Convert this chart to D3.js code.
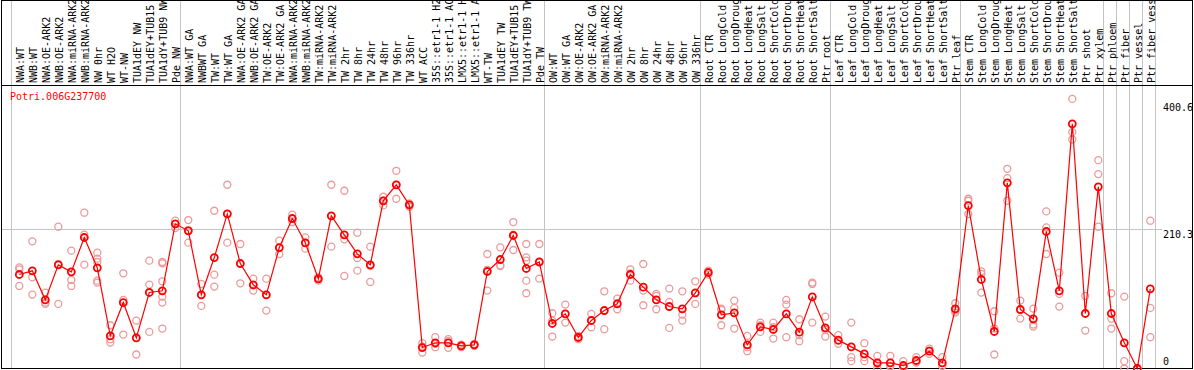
<!DOCTYPE html>
<html>
<head>
<meta charset="utf-8">
<script src="https://cdn.jsdelivr.net/npm/d3@7"></script>
<style>
  body { margin: 0; background: #fff; }
  svg { display: block; }
  text { font-family: 'DejaVu Sans Mono', monospace; font-size: 10px; }
</style>
</head>
<body>
<svg id="chart"></svg>
<script>
const gene = 'Potri.006G237700'

const samples = [
  'NWA:WT', 'NWB:WT', 'NWA:OE-ARK2', 'NWB:OE-ARK2', 'NWA:miRNA-ARK2', 'NWB:miRNA-ARK2', 'NW 0hr', 'WT H2O', 'WT-NW',
  'TUA1dEY NW', 'TUA1dEY+TUB15 NW', 'TUA1dY+TUB9 NW', 'Pde NW',
  'NWA:WT GA', 'NWBWT GA', 'TW:WT', 'TW:WT GA', 'NWA:OE-ARK2 GA', 'NWB:OE-ARK2 GA', 'TW:OE-ARK2', 'TW:OE-ARK2 GA',
  'NWA:miRNA-ARK2 GA', 'NWB:miRNA-ARK2 GA', 'TW:miRNA-ARK2', 'TW:miRNA-ARK2 GA', 'TW 2hr', 'TW 8hr', 'TW 24hr', 'TW 48hr',
  'TW 96hr', 'TW 336hr', 'WT ACC', '35S::etr1-1 H2O', '35S::etr1-1 ACC', 'LMX5::etr1-1 H2O', 'LMX5::etr1-1 ACC', 'WT-TW',
  'TUA1dEY TW', 'TUA1dEY+TUB15 TW', 'TUA1dY+TUB9 TW', 'Pde TW',
  'OW:WT', 'OW:WT GA', 'OW:OE-ARK2', 'OW:OE-ARK2 GA', 'OW:miRNA-ARK2', 'OW:miRNA-ARK2 GA', 'OW 2hr', 'OW 8hr', 'OW 24hr',
  'OW 48hr', 'OW 96hr', 'OW 336hr',
  'Root CTR', 'Root LongCold', 'Root LongDrought', 'Root LongHeat', 'Root LongSalt', 'Root ShortCold', 'Root ShortDrought',
  'Root ShortHeat', 'Root ShortSalt', 'Ptr root',
  'Leaf CTR', 'Leaf LongCold', 'Leaf LongDrought', 'Leaf LongHeat', 'Leaf LongSalt', 'Leaf ShortCold', 'Leaf ShortDrought',
  'Leaf ShortHeat', 'Leaf ShortSalt', 'Ptr leaf',
  'Stem CTR', 'Stem LongCold', 'Stem LongDrought', 'Stem LongHeat', 'Stem LongSalt', 'Stem ShortCold', 'Stem ShortDrought',
  'Stem ShortHeat', 'Stem ShortSalt', 'Ptr shoot', 'Ptr xylem',
  'Ptr phloem', 'Ptr fiber', 'Ptr vessel', 'Ptr fiber vessel'
]

// number of samples in each block between grey separators
const groupSizes = [13, 28, 12, 10, 10, 11, 1, 1, 1, 1]

const means = [
  141.2, 146.7, 103.1, 155.7, 145.2, 196.8, 151.2, 49.1, 99.1, 46.1, 114.2, 116.7, 217.3,
  206.8, 110.7, 166.7, 232.3, 157.7, 125.7, 110.7, 181.7, 225.3, 188.8, 134.7, 229.3, 200.8, 172.2, 155.7,
  251.8, 275.9, 245.8, 31.5, 38.6, 38.6, 34.0, 35.5, 145.7, 163.7, 199.8, 150.2, 160.2,
  67.6, 82.1, 46.6, 72.1, 87.1, 97.1, 141.2, 122.2, 103.1, 93.1, 89.6, 113.6,
  144.2, 80.6, 83.6, 35.5, 62.6, 58.6, 82.1, 54.6, 107.6, 61.1,
  42.6, 32.5, 22.0, 8.5, 8.5, 4.5, 12.0, 26.0, 8.5, 89.6,
  244.8, 133.7, 55.6, 278.9, 88.6, 74.6, 205.8, 116.7, 367.5, 82.6, 272.9,
  82.6, 38.6, 0, 119.7
]

const replicates = [
  [152, 149, 124], [191, 137, 111], [114, 99, 97], [213, 157, 97], [177, 133, 124], [234, 201, 156],
  [174, 165, 160, 132, 129], [65, 44, 39], [143, 103, 51], [72, 46, 21], [162, 126, 55],
  [160, 158, 131, 108, 99, 60], [222, 217, 211],
  [223, 208, 189], [127, 111, 94], [237, 141, 123], [276, 232, 189], [187, 158, 128], [135, 125, 117],
  [135, 111, 87], [192, 181, 172], [231, 225, 220], [197, 189, 180], [137, 135, 132], [276, 229, 183],
  [267, 194, 139], [204, 166, 147], [183, 154, 130], [258, 252, 245], [297, 276, 255], [248, 246, 243],
  [38, 33, 24], [47, 37, 32], [44, 41, 31], [36, 34, 32], [37, 36, 34], [172, 148, 117], [182, 155, 154],
  [220, 201, 178], [187, 167, 162, 132, 113], [187, 159, 135],
  [83, 72, 48], [96, 82, 69], [49, 47, 44], [82, 72, 62], [116, 87, 59], [105, 98, 89], [149, 143, 132],
  [157, 117, 95], [112, 109, 89], [120, 100, 61], [116, 81, 72], [131, 113, 97],
  [147, 144, 141], [90, 88, 65], [102, 91, 60], [49, 32, 26], [69, 65, 55], [69, 62, 45], [103, 96, 47],
  [74, 50, 41], [129, 127, 69], [78, 58, 48],
  [50, 42, 37], [69, 17, 11], [38, 17, 11], [19, 7, 0], [19, 4, 3], [11, 2, 1], [17, 10, 9], [30, 27, 22],
  [17, 4, 4], [98, 87, 84],
  [255, 252, 232], [146, 142, 114], [86, 60, 21], [300, 286, 252], [102, 89, 75], [90, 66, 63],
  [236, 212, 172], [144, 112, 93], [405, 355, 344], [109, 83, 57], [313, 292, 213],
  [113, 75, 60], [108, 11, 0], [0, 0, 0], [222, 91, 47]
]

const yMax = 420.6
const yTicks = [0, 210.3, 400.6]
const gridValues = [210.3]

const w = 1194
const h = 370
const labelBottom = 85
const plotBottom = 368.5

const svg = d3.select('#chart')
  .attr('width', w)
  .attr('height', h)

const x = d3.scaleBand()
  .domain(d3.range(samples.length))
  .range([12.8, 12.8 + 13 * samples.length])
const cx = i => x(i) + x.bandwidth() / 2

const y = d3.scaleLinear()
  .domain([0, yMax])
  .range([plotBottom, 88.5])

// grey separators between sample blocks
let starts = [0]
groupSizes.forEach(n => starts.push(starts[starts.length - 1] + n))
const sepX = i => (i < samples.length ? x(i) : x.range()[1]) - 1.5

svg.append('g')
  .selectAll('line')
  .data(starts)
  .enter()
  .append('line')
  .attr('x1', d => Math.round(sepX(d)) + 0.5)
  .attr('x2', d => Math.round(sepX(d)) + 0.5)
  .attr('y1', 0)
  .attr('y2', 369)
  .attr('stroke', '#c4c4c4')

svg.append('g')
  .selectAll('line')
  .data(gridValues)
  .enter()
  .append('line')
  .attr('x1', 1)
  .attr('x2', 1162)
  .attr('y1', d => Math.round(y(d)) + 0.5)
  .attr('y2', d => Math.round(y(d)) + 0.5)
  .attr('stroke', '#c4c4c4')

// frame
svg.append('rect')
  .attr('x', 1.5)
  .attr('y', 0.5)
  .attr('width', 1191)
  .attr('height', 368)
  .attr('fill', 'none')
  .attr('stroke', 'black')

svg.append('line')
  .attr('x1', 1)
  .attr('x2', 1193)
  .attr('y1', labelBottom + 0.5)
  .attr('y2', labelBottom + 0.5)
  .attr('stroke', 'black')

// sample labels
svg.append('g')
  .selectAll('text')
  .data(samples)
  .enter()
  .append('text')
  .text(d => d)
  .attr('transform', (d, i) => `translate(${cx(i) + 4.5}, 83) rotate(-90)`)
  .style('fill', 'black')

// replicate points
const repPoints = []
replicates.forEach((r, i) => r.forEach(v => repPoints.push({ i, v })))

svg.append('g')
  .selectAll('circle')
  .data(repPoints)
  .enter()
  .append('circle')
  .attr('cx', d => cx(d.i))
  .attr('cy', d => y(d.v))
  .attr('r', 3.5)
  .attr('fill', 'none')
  .attr('stroke', '#ec9a9a')
  .attr('stroke-width', 1.3)

const line = d3.line()
  .x((d, i) => cx(i))
  .y(d => y(d))

svg.append('path')
  .datum(means)
  .attr('d', line)
  .attr('fill', 'none')
  .attr('stroke', 'red')
  .attr('stroke-width', 1.2)

svg.append('g')
  .selectAll('circle')
  .data(means)
  .enter()
  .append('circle')
  .attr('cx', (d, i) => cx(i))
  .attr('cy', d => y(d))
  .attr('r', 3.5)
  .attr('fill', 'none')
  .attr('stroke', 'red')
  .attr('stroke-width', 1.8)

// right-hand value labels
svg.append('g')
  .selectAll('text')
  .data(yTicks)
  .enter()
  .append('text')
  .text(d => d)
  .attr('x', 1163)
  .attr('y', d => Math.min(y(d) + 9, 365))
  .style('fill', 'black')

svg.append('text')
  .text(gene)
  .attr('x', 10)
  .attr('y', 100)
  .style('fill', 'red')
</script>
</body>
</html>
